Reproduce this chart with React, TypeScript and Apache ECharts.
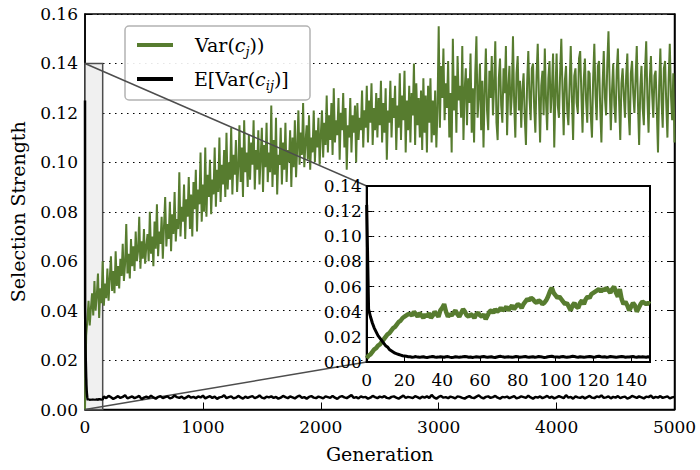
import React, { useEffect, useRef } from "react";
import * as echarts from "echarts";

// Main plot green: one value every GEN_STEP generations (0..5000)
const GEN_STEP = 10;
const mainGreen = [
  0.000, 0.030, 0.036, 0.044, 0.034, 0.041, 0.047, 0.038, 0.052, 0.040,
  0.046, 0.055, 0.037, 0.049, 0.043, 0.060, 0.042, 0.051, 0.045, 0.057,
  0.044, 0.053, 0.062, 0.048, 0.056, 0.047, 0.064, 0.050, 0.058, 0.049,
  0.061, 0.054, 0.067, 0.052, 0.059, 0.075, 0.055, 0.063, 0.053, 0.069,
  0.058, 0.066, 0.056, 0.072, 0.060, 0.064, 0.078, 0.057, 0.068, 0.061,
  0.073, 0.059, 0.066, 0.071, 0.060, 0.080, 0.063, 0.070, 0.058, 0.076,
  0.065, 0.083, 0.062, 0.072, 0.067, 0.078, 0.061, 0.074, 0.086, 0.066,
  0.075, 0.069, 0.084, 0.064, 0.079, 0.071, 0.088, 0.068, 0.077, 0.073,
  0.096, 0.070, 0.082, 0.076, 0.091, 0.069, 0.085, 0.078, 0.094, 0.073,
  0.087, 0.070, 0.092, 0.081, 0.097, 0.072, 0.089, 0.083, 0.104, 0.076,
  0.091, 0.080, 0.106, 0.078, 0.095, 0.086, 0.101, 0.079, 0.093, 0.087,
  0.106, 0.082, 0.097, 0.088, 0.110, 0.084, 0.099, 0.091, 0.105, 0.086,
  0.112, 0.089, 0.100, 0.093, 0.114, 0.087, 0.103, 0.095, 0.109, 0.088,
  0.098, 0.115, 0.092, 0.106, 0.086, 0.117, 0.096, 0.104, 0.090, 0.111,
  0.093, 0.108, 0.099, 0.117, 0.089, 0.105, 0.097, 0.113, 0.091, 0.102,
  0.114, 0.088, 0.107, 0.098, 0.116, 0.092, 0.104, 0.096, 0.123, 0.090,
  0.109, 0.095, 0.118, 0.087, 0.103, 0.099, 0.114, 0.091, 0.108, 0.097,
  0.116, 0.092, 0.105, 0.100, 0.113, 0.090, 0.110, 0.098, 0.117, 0.094,
  0.106, 0.121, 0.099, 0.112, 0.103, 0.124, 0.098, 0.108, 0.115, 0.101,
  0.119, 0.097, 0.110, 0.104, 0.121, 0.100, 0.113, 0.106, 0.118, 0.099,
  0.111, 0.121, 0.102, 0.116, 0.107, 0.127, 0.104, 0.119, 0.109, 0.124,
  0.103, 0.130, 0.108, 0.117, 0.111, 0.126, 0.101, 0.120, 0.113, 0.128,
  0.106, 0.122, 0.097, 0.115, 0.110, 0.126, 0.104, 0.119, 0.112, 0.123,
  0.100, 0.124, 0.109, 0.118, 0.113, 0.129, 0.106, 0.121, 0.114, 0.131,
  0.108, 0.125, 0.116, 0.132, 0.107, 0.122, 0.113, 0.128, 0.110, 0.126,
  0.115, 0.133, 0.108, 0.124, 0.112, 0.130, 0.101, 0.121, 0.116, 0.133,
  0.110, 0.126, 0.118, 0.131, 0.105, 0.123, 0.114, 0.136, 0.109, 0.127,
  0.117, 0.137, 0.104, 0.125, 0.113, 0.131, 0.108, 0.128, 0.119, 0.140,
  0.107, 0.132, 0.115, 0.126, 0.110, 0.129, 0.105, 0.134, 0.112, 0.127,
  0.104, 0.131, 0.116, 0.134, 0.108, 0.125, 0.111, 0.129, 0.106, 0.122,
  0.155, 0.114, 0.139, 0.126, 0.146, 0.117, 0.132, 0.122, 0.141, 0.110,
  0.128, 0.104, 0.150, 0.121, 0.135, 0.112, 0.143, 0.125, 0.131, 0.118,
  0.147, 0.109, 0.129, 0.138, 0.115, 0.134, 0.124, 0.144, 0.112, 0.130,
  0.108, 0.136, 0.151, 0.118, 0.127, 0.140, 0.113, 0.133, 0.106, 0.129,
  0.146, 0.121, 0.113, 0.137, 0.126, 0.143, 0.119, 0.131, 0.149, 0.116,
  0.109, 0.134, 0.142, 0.123, 0.116, 0.138, 0.128, 0.147, 0.111, 0.130,
  0.139, 0.119, 0.127, 0.151, 0.124, 0.110, 0.136, 0.143, 0.121, 0.133,
  0.114, 0.129, 0.136, 0.118, 0.107, 0.132, 0.145, 0.126, 0.117, 0.138,
  0.140, 0.122, 0.112, 0.135, 0.148, 0.127, 0.108, 0.131, 0.137, 0.119,
  0.146, 0.125, 0.113, 0.134, 0.141, 0.120, 0.129, 0.144, 0.106, 0.128,
  0.144, 0.123, 0.118, 0.136, 0.150, 0.129, 0.111, 0.133, 0.139, 0.121,
  0.115, 0.131, 0.147, 0.126, 0.109, 0.135, 0.138, 0.124, 0.120, 0.142,
  0.145, 0.128, 0.112, 0.133, 0.142, 0.125, 0.116, 0.137, 0.136, 0.119,
  0.110, 0.134, 0.148, 0.127, 0.117, 0.139, 0.141, 0.122, 0.108, 0.131,
  0.145, 0.126, 0.119, 0.140, 0.153, 0.131, 0.113, 0.129, 0.140, 0.123,
  0.116, 0.137, 0.146, 0.125, 0.109, 0.132, 0.138, 0.127, 0.118, 0.135,
  0.144, 0.121, 0.111, 0.136, 0.141, 0.128, 0.120, 0.134, 0.147, 0.124,
  0.107, 0.130, 0.139, 0.122, 0.115, 0.137, 0.149, 0.126, 0.112, 0.133,
  0.143, 0.128, 0.118, 0.135, 0.137, 0.121, 0.104, 0.131, 0.146, 0.125,
  0.114, 0.138, 0.141, 0.124, 0.110, 0.133, 0.148, 0.127, 0.117, 0.136,
  0.108,
];

// Main plot black: one value every BLACK_STEP generations (0..5000)
const BLACK_STEP = 20;
const mainBlack = [
  0.125,
  0.0048, 0.0053, 0.0045, 0.0051, 0.0057, 0.0044, 0.0049, 0.0052, 0.0046, 0.0055,
  0.0050, 0.0043, 0.0048, 0.0054, 0.0047, 0.0051, 0.0058, 0.0045, 0.0049, 0.0053,
  0.0046, 0.0050, 0.0055, 0.0042, 0.0048, 0.0052, 0.0047, 0.0056, 0.0049, 0.0044,
  0.0051, 0.0054, 0.0046, 0.0050, 0.0053, 0.0045, 0.0048, 0.0057, 0.0050, 0.0047,
  0.0052, 0.0044, 0.0049, 0.0055, 0.0048, 0.0051, 0.0046, 0.0053, 0.0049, 0.0056,
  0.0045, 0.0050, 0.0054, 0.0047, 0.0052, 0.0043, 0.0049, 0.0051, 0.0058, 0.0046,
  0.0050, 0.0053, 0.0045, 0.0048, 0.0055, 0.0049, 0.0044, 0.0052, 0.0047, 0.0051,
  0.0054, 0.0046, 0.0050, 0.0057, 0.0048, 0.0045, 0.0052, 0.0049, 0.0053, 0.0047,
  0.0051, 0.0044, 0.0048, 0.0055, 0.0050, 0.0046, 0.0053, 0.0049, 0.0045, 0.0052,
  0.0056, 0.0047, 0.0050, 0.0044, 0.0051, 0.0054, 0.0048, 0.0046, 0.0052, 0.0049,
  0.0045, 0.0053, 0.0050, 0.0047, 0.0055, 0.0048, 0.0043, 0.0051, 0.0054, 0.0049,
  0.0046, 0.0052, 0.0058, 0.0047, 0.0050, 0.0045, 0.0053, 0.0049, 0.0051, 0.0044,
  0.0048, 0.0055, 0.0050, 0.0046, 0.0052, 0.0049, 0.0054, 0.0047, 0.0045, 0.0051,
  0.0053, 0.0048, 0.0044, 0.0050, 0.0056, 0.0047, 0.0051, 0.0049, 0.0046, 0.0054,
  0.0050, 0.0045, 0.0052, 0.0048, 0.0053, 0.0047, 0.0059, 0.0049, 0.0044, 0.0051,
  0.0055, 0.0048, 0.0050, 0.0046, 0.0052, 0.0049, 0.0045, 0.0053, 0.0051, 0.0047,
  0.0044, 0.0050, 0.0054, 0.0048, 0.0046, 0.0052, 0.0057, 0.0049, 0.0045, 0.0051,
  0.0053, 0.0047, 0.0050, 0.0055, 0.0048, 0.0044, 0.0051, 0.0049, 0.0052, 0.0046,
  0.0050, 0.0054, 0.0045, 0.0048, 0.0053, 0.0050, 0.0047, 0.0056, 0.0049, 0.0044,
  0.0051, 0.0048, 0.0053, 0.0046, 0.0050, 0.0055, 0.0047, 0.0052, 0.0045, 0.0049,
  0.0054, 0.0050, 0.0046, 0.0058, 0.0048, 0.0051, 0.0044, 0.0053, 0.0049, 0.0047,
  0.0052, 0.0045, 0.0050, 0.0055, 0.0048, 0.0046, 0.0053, 0.0050, 0.0057, 0.0047,
  0.0049, 0.0053, 0.0045, 0.0051, 0.0048, 0.0054, 0.0046, 0.0050, 0.0052, 0.0044,
  0.0048, 0.0055, 0.0051, 0.0047, 0.0053, 0.0049, 0.0045, 0.0052, 0.0050, 0.0056,
  0.0046, 0.0051, 0.0048, 0.0054, 0.0047, 0.0050, 0.0053, 0.0045, 0.0049, 0.0051,
];

// Inset: one value per generation, 0..150
const insetGreen = [
  0.003, 0.005, 0.006, 0.008, 0.010, 0.011, 0.013, 0.014, 0.016, 0.018,
  0.020, 0.022, 0.023, 0.025, 0.027, 0.028, 0.030, 0.032, 0.033, 0.035,
  0.036, 0.037, 0.038,
  0.038, 0.037, 0.040, 0.038, 0.036, 0.039, 0.037, 0.035,
  0.038, 0.036, 0.039, 0.035, 0.037, 0.040, 0.038, 0.036, 0.041, 0.043,
  0.046, 0.040, 0.036, 0.038, 0.037, 0.039, 0.041, 0.038, 0.036, 0.039,
  0.042, 0.040, 0.037, 0.036, 0.038, 0.037, 0.035, 0.038, 0.039, 0.037,
  0.036, 0.038, 0.034, 0.037, 0.040, 0.041, 0.039, 0.042, 0.040, 0.041,
  0.043, 0.041, 0.042, 0.044, 0.041, 0.043, 0.045, 0.042, 0.044, 0.046,
  0.045, 0.043, 0.046, 0.048, 0.050, 0.049, 0.051, 0.050, 0.048, 0.047,
  0.049, 0.048, 0.046, 0.047, 0.049, 0.052, 0.056, 0.059, 0.055, 0.053,
  0.051, 0.052, 0.050, 0.048, 0.046, 0.047, 0.044, 0.041, 0.045, 0.047,
  0.044, 0.043, 0.047, 0.049, 0.046, 0.050, 0.052, 0.051, 0.054, 0.055,
  0.056, 0.057, 0.058, 0.056, 0.058, 0.057, 0.059, 0.057, 0.055, 0.058,
  0.060, 0.055, 0.052, 0.058, 0.050, 0.046, 0.048, 0.045, 0.041, 0.044,
  0.047, 0.045, 0.040, 0.043, 0.046, 0.048, 0.047, 0.046, 0.047, 0.046,
];

const insetBlack = [
  0.125, 0.042, 0.036, 0.031, 0.027, 0.024, 0.021, 0.019, 0.017, 0.015,
  0.013, 0.012, 0.010, 0.009, 0.008, 0.007, 0.0065, 0.006, 0.0055, 0.005,
  0.0048, 0.0045, 0.0042,
  0.0041, 0.0038, 0.0040, 0.0043, 0.0039, 0.0037, 0.0040, 0.0042, 0.0038, 0.0036,
  0.0039, 0.0041, 0.0044, 0.0040, 0.0037, 0.0039, 0.0042, 0.0040, 0.0038, 0.0041,
  0.0043, 0.0039, 0.0036, 0.0038, 0.0041, 0.0040, 0.0037, 0.0039, 0.0042, 0.0044,
  0.0041, 0.0038, 0.0040, 0.0036, 0.0039, 0.0042, 0.0040, 0.0038, 0.0041, 0.0043,
  0.0040, 0.0037, 0.0039, 0.0041, 0.0038, 0.0036, 0.0040, 0.0043, 0.0045, 0.0041,
  0.0038, 0.0040, 0.0042, 0.0039, 0.0037, 0.0040, 0.0043, 0.0041, 0.0038, 0.0039,
  0.0042, 0.0044, 0.0040, 0.0037, 0.0039, 0.0041, 0.0038, 0.0040, 0.0043, 0.0041,
  0.0039, 0.0036, 0.0038, 0.0041, 0.0044, 0.0046, 0.0042, 0.0039, 0.0040, 0.0038,
  0.0041, 0.0043, 0.0040, 0.0037, 0.0039, 0.0042, 0.0045, 0.0043, 0.0040, 0.0038,
  0.0041, 0.0039, 0.0037, 0.0040, 0.0042, 0.0044, 0.0041, 0.0038, 0.0040, 0.0043,
  0.0046, 0.0042, 0.0039, 0.0041, 0.0038, 0.0040, 0.0043, 0.0041, 0.0039, 0.0037,
  0.0040, 0.0042, 0.0044, 0.0041, 0.0038, 0.0040, 0.0039, 0.0041, 0.0043, 0.0040,
  0.0038, 0.0041, 0.0039, 0.0042, 0.0040, 0.0038, 0.0041, 0.0040,
];

const MAIN_X = { min: 0, max: 5000, interval: 1000 };
const MAIN_Y = { min: 0, max: 0.16, interval: 0.02 };
const INSET_X = { min: 0, max: 150, interval: 20 };
const INSET_Y = { min: 0, max: 0.14, interval: 0.02 };
const X_NAME = "Generation";
const Y_NAME = "Selection Strength";

export default function App() {
  const ref = useRef<HTMLDivElement>(null);

  useEffect(() => {
    const chart = echarts.init(ref.current!, null, { renderer: "svg" });
    const font = "DejaVu Serif";
    const green = "#577c2f";
    const labelStyle = { color: "#000", fontFamily: font, fontSize: 17 };
    const dotted = { show: true, lineStyle: { color: "#000", type: [1.5, 4.5] as any, width: 1.2 } };
    const fmt2 = (v: number) => v.toFixed(2);
    const fmtInt = (v: number) => String(v);

    const mainG = mainGreen.map((v, i) => [i * GEN_STEP, v]);
    const insG = insetGreen.map((v, i) => [i, v]);
    const insB = insetBlack.map((v, i) => [i, v]);
    const mainB = insB.concat(
      mainBlack.map((v, i) => [i * BLACK_STEP, v]).filter((p) => p[0] > INSET_X.max)
    );

    chart.setOption({
      animation: false,
      backgroundColor: "#fff",
      grid: [
        { left: 83.5, top: 14, right: 25.5, bottom: 60.5, show: true, borderColor: "#000", borderWidth: 1.5, backgroundColor: "transparent" },
        { left: 366.7, top: 186, right: 50, bottom: 108, show: true, borderColor: "#000", borderWidth: 2, backgroundColor: "#fff", z: 5 },
      ],
      xAxis: [
        {
          gridIndex: 0, type: "value", ...MAIN_X,
          name: X_NAME, nameLocation: "middle", nameGap: 35,
          nameTextStyle: { color: "#000", fontFamily: font, fontSize: 19 },
          axisLine: { lineStyle: { color: "#000", width: 1.5 } },
          axisTick: { inside: true, length: 7, lineStyle: { color: "#000", width: 1 } },
          axisLabel: { ...labelStyle, margin: 9, formatter: fmtInt },
          splitLine: { show: false },
        },
        {
          gridIndex: 1, type: "value", ...INSET_X, z: 6,
          axisLine: { lineStyle: { color: "#000", width: 2 } },
          axisTick: { inside: true, length: 6, lineStyle: { color: "#000", width: 1 } },
          axisLabel: { ...labelStyle, margin: 9, showMaxLabel: false, formatter: fmtInt },
          splitLine: { show: false },
        },
      ],
      yAxis: [
        {
          gridIndex: 0, type: "value", ...MAIN_Y,
          name: Y_NAME, nameLocation: "middle", nameGap: 58,
          nameTextStyle: { color: "#000", fontFamily: font, fontSize: 19 },
          axisLine: { show: true, lineStyle: { color: "#000", width: 1.5 } },
          axisTick: { show: true, inside: true, length: 7, lineStyle: { color: "#000", width: 1 } },
          axisLabel: { ...labelStyle, margin: 7, formatter: fmt2 },
          splitLine: dotted,
        },
        {
          gridIndex: 0, type: "value", position: "right", ...MAIN_Y,
          axisLine: { show: true, lineStyle: { color: "#000", width: 1.5 } },
          axisTick: { show: true, inside: true, length: 7, lineStyle: { color: "#000", width: 1 } },
          axisLabel: { show: false },
          splitLine: { show: false },
        },
        {
          gridIndex: 1, type: "value", ...INSET_Y, z: 6,
          axisLine: { show: true, lineStyle: { color: "#000", width: 2 } },
          axisTick: { show: true, inside: true, length: 6, lineStyle: { color: "#000", width: 1 } },
          axisLabel: { ...labelStyle, margin: 5, formatter: fmt2 },
          splitLine: dotted,
        },
      ],
      series: [
        {
          type: "line", xAxisIndex: 0, yAxisIndex: 0, data: mainG, showSymbol: false, z: 3,
          lineStyle: { color: green, width: 2 }, itemStyle: { color: green },
          markArea: {
            silent: true,
            itemStyle: { color: "#f0f0f0", borderColor: "#4d4d4d", borderWidth: 1.5 },
            data: [[{ coord: [INSET_X.min, INSET_Y.min] }, { coord: [INSET_X.max, INSET_Y.max] }]],
          },
        },
        {
          type: "line", xAxisIndex: 0, yAxisIndex: 0, data: mainB, showSymbol: false, z: 4,
          lineStyle: { color: "#000", width: 2.5 }, itemStyle: { color: "#000" },
        },
        {
          type: "line", xAxisIndex: 1, yAxisIndex: 2, data: insG, showSymbol: false, z: 7,
          lineStyle: { color: green, width: 4.5 }, itemStyle: { color: green },
        },
        {
          type: "line", xAxisIndex: 1, yAxisIndex: 2, data: insB, showSymbol: false, z: 8,
          lineStyle: { color: "#000", width: 3 }, itemStyle: { color: "#000" },
        },
      ],
    });

    const mTop = chart.convertToPixel({ xAxisIndex: 0, yAxisIndex: 0 } as any, [INSET_X.min, INSET_Y.max]) as number[];
    const mBot = chart.convertToPixel({ xAxisIndex: 0, yAxisIndex: 0 } as any, [INSET_X.min, INSET_Y.min]) as number[];
    const iTop = chart.convertToPixel({ xAxisIndex: 1, yAxisIndex: 2 } as any, [INSET_X.min, INSET_Y.max]) as number[];
    const iBot = chart.convertToPixel({ xAxisIndex: 1, yAxisIndex: 2 } as any, [INSET_X.min, INSET_Y.min]) as number[];

    const rich = {
      r: { fontFamily: font, fontSize: 19, fill: "#000", lineHeight: 26, verticalAlign: "middle" },
      i: { fontFamily: font, fontSize: 19, fontStyle: "italic", fill: "#000", lineHeight: 26, verticalAlign: "middle" },
      s: { fontFamily: font, fontSize: 13, fontStyle: "italic", fill: "#000", lineHeight: 15, verticalAlign: "bottom" },
    };

    chart.setOption({
      graphic: [
        { type: "line", z: 4, silent: true, shape: { x1: mTop[0], y1: mTop[1], x2: iTop[0], y2: iTop[1] }, style: { stroke: "#4d4d4d", lineWidth: 1.5 } },
        { type: "line", z: 4, silent: true, shape: { x1: mBot[0], y1: mBot[1], x2: iBot[0], y2: iBot[1] }, style: { stroke: "#4d4d4d", lineWidth: 1.5 } },
        {
          type: "group", z: 20, silent: true,
          children: [
            { type: "rect", shape: { x: 125, y: 26, width: 185, height: 74, r: 4 }, style: { fill: "rgba(255,255,255,0.9)", stroke: "#b3b3b3", lineWidth: 1.5 } },
            { type: "line", shape: { x1: 137, y1: 45, x2: 173, y2: 45 }, style: { stroke: green, lineWidth: 4 } },
            { type: "line", shape: { x1: 137, y1: 79, x2: 173, y2: 79 }, style: { stroke: "#000", lineWidth: 4 } },
            { type: "text", x: 195, y: 45, style: { text: "{r|Var(}{i|c}{s|j}{r|))}", rich, verticalAlign: "middle", align: "left" } },
            { type: "text", x: 194, y: 79, style: { text: "{r|E[Var(}{i|c}{s|ij}{r|)]}", rich, verticalAlign: "middle", align: "left" } },
          ],
        },
      ],
    });

    return () => chart.dispose();
  }, []);

  return <div ref={ref} style={{ position: "fixed", left: 0, top: 0, width: 700, height: 470 }} />;
}
